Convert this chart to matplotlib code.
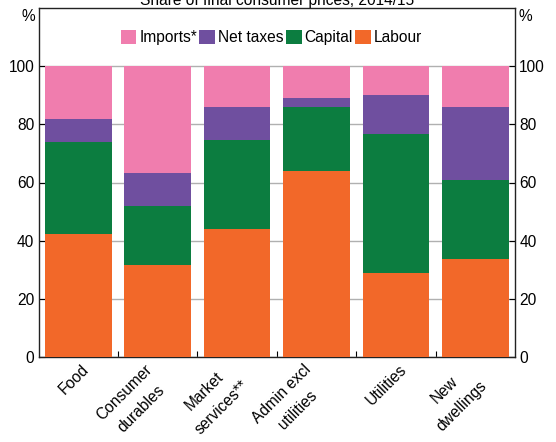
import matplotlib
matplotlib.use("Agg")
import matplotlib.pyplot as plt
import matplotlib.transforms as mtransforms
import numpy as np

plt.rcParams['font.family'] = ['Liberation Sans', 'DejaVu Sans']

categories = ["Food", "Consumer\ndurables", "Market\nservices**", "Admin excl\nutilities", "Utilities", "New\ndwellings"]
labour = [42.3, 31.6, 44.0, 63.8, 28.9, 33.7]
capital = [31.5, 20.3, 30.6, 22.0, 47.7, 27.1]
net_taxes = [8.2, 11.2, 11.5, 3.4, 13.4, 25.3]
imports = [18.0, 36.9, 13.9, 10.8, 10.0, 13.9]

series = [("Labour", labour, "#F26829"), ("Capital", capital, "#0C7D40"),
          ("Net taxes", net_taxes, "#6F4F9F"), ("Imports*", imports, "#F07DAE")]

FS = 11.2
W, H = 556, 442
L, R, T, B = 38.5, 515, 8, 357
fig = plt.figure(figsize=(W/100, H/100), dpi=100)
ax = fig.add_axes([L/W, 1 - B/H, (R-L)/W, (B-T)/H])

x = np.arange(len(categories))
bottom = np.zeros(len(categories))
handles = {}
for name, vals, col in series:
    b = ax.bar(x, vals, bottom=bottom, width=0.84, color=col, zorder=3)
    handles[name] = b
    bottom += np.array(vals)

ax.set_xlim(-0.5, len(categories) - 0.5)
ax.set_ylim(0, 120)
ax.set_yticks([0, 20, 40, 60, 80, 100])
ax.yaxis.grid(True, color="#B0B0B0", linewidth=1, zorder=0)
ax.tick_params(axis='y', direction='in', length=4, labelsize=FS, right=True, labelright=True, pad=3)
ax.set_xticks(np.arange(len(categories) - 1) + 0.5)
ax.set_xticklabels([])
ax.tick_params(axis='x', direction='in', length=4)

lab_tr = mtransforms.offset_copy(ax.get_xaxis_transform(), fig=fig, y=-4.5, units='dots')
for i, c in enumerate(categories):
    ax.text(i + 0.175, 0, c, rotation=45, ha='right', va='top', rotation_mode='default',
            fontsize=FS, multialignment='center', linespacing=1.7,
            transform=lab_tr, clip_on=False)

for s in ax.spines.values():
    s.set_linewidth(1)
    s.set_color("#222222")

fig.text(35/W, 1 - 16.5/H, "%", ha='right', va='center', fontsize=FS)
fig.text(518.5/W, 1 - 16.5/H, "%", ha='left', va='center', fontsize=FS)
fig.text((L + R) / 2 / W, 1 - 4.5/H, "Share of final consumer prices, 2014/15",
         ha='center', va='baseline', fontsize=FS)

order = ["Imports*", "Net taxes", "Capital", "Labour"]
px_per_unit = (B - T) / 120
ax.legend([handles[n] for n in order], order, ncol=4, loc='center',
          bbox_to_anchor=((271.5 - L) / (R - L), (120 - (37.5 - T) / px_per_unit) / 120),
          frameon=False, fontsize=FS, handlelength=1.0, handleheight=1.0,
          handletextpad=0.2, columnspacing=0.15, borderaxespad=0)

fig.savefig("out.png", dpi=100)
